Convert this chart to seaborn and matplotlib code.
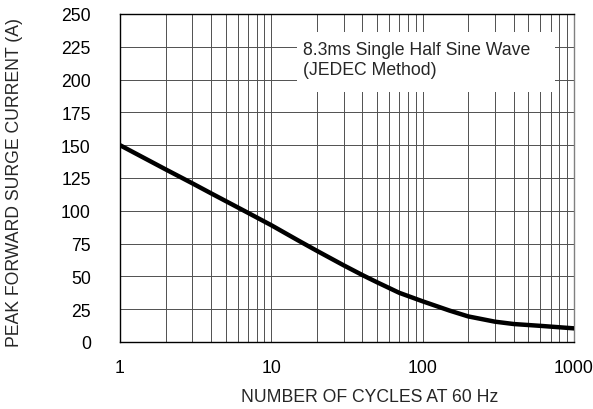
import matplotlib
matplotlib.use("Agg")
import matplotlib.pyplot as plt
import matplotlib.patches as mpatches
from matplotlib.ticker import FixedLocator, NullFormatter
import seaborn as sns
import pandas as pd

cycles = [1, 2, 3, 4, 5, 7, 10, 15, 20, 30, 40, 50, 70, 100, 150, 200, 300, 400, 600, 1000]
current = [150, 131.6, 121, 113.3, 107.4, 98.5, 89, 77.5, 69.5, 58.5, 51, 45.5, 37.5, 31, 24, 19.5, 15.5, 13.7, 12.3, 10.4]
x_ticks = [1, 10, 100, 1000]
x_tick_labels = ["1", "10", "100", "1000"]
y_ticks = [0, 25, 50, 75, 100, 125, 150, 175, 200, 225, 250]
note = "8.3ms Single Half Sine Wave\n(JEDEC Method)"
x_label = "NUMBER OF CYCLES AT 60 Hz"
y_label = "PEAK FORWARD SURGE CURRENT (A)"

sns.set_style("white")
plt.rcParams['font.family'] = ['Liberation Sans', 'DejaVu Sans']

W, H = 593, 410
fig = plt.figure(figsize=(W / 100, H / 100), dpi=100)
ax = fig.add_axes([120 / W, 1 - 343 / H, 454 / W, 328 / H])

df = pd.DataFrame({"cycles": cycles, "current": current})
sns.lineplot(data=df, x="cycles", y="current", ax=ax, color="black", linewidth=3.2, zorder=5)

ax.set_xscale("log")
ax.set_xlim(1, 1000)
ax.set_ylim(0, 250)
ax.xaxis.set_major_locator(FixedLocator(x_ticks))
ax.set_xticklabels(x_tick_labels)
minor = [m * d for d in (1, 10, 100) for m in range(2, 10)]
ax.xaxis.set_minor_locator(FixedLocator(minor))
ax.xaxis.set_minor_formatter(NullFormatter())
ax.set_yticks(y_ticks)
ax.grid(True, which="both", color="#505050", linewidth=0.7)
ax.tick_params(axis="both", which="both", length=0, labelsize=12.7, colors="black")
ax.tick_params(axis="x", pad=12.5)
ax.tick_params(axis="y", pad=21)
for s in ax.spines.values():
    s.set_color("black")
    s.set_linewidth(1.0)
ax.spines["right"].set_color("#808080")

ax.add_patch(mpatches.Rectangle((0.39, 0.762), 0.568, 0.183, transform=ax.transAxes,
                                facecolor="white", edgecolor="none", zorder=3))
ax.text(0.403, 0.918, note, transform=ax.transAxes, fontsize=12.7, va="top", ha="left",
        linespacing=1.22, zorder=4)

ax.set_xlabel("")
ax.set_ylabel("")
fig.text(370 / W, 1 - 398 / H, x_label, fontsize=12.7, ha="center", va="center")
fig.text(15 / W, 1 - 183 / H, y_label, fontsize=12.7, ha="center", va="center", rotation=90)

fig.savefig("out.png", dpi=100)
